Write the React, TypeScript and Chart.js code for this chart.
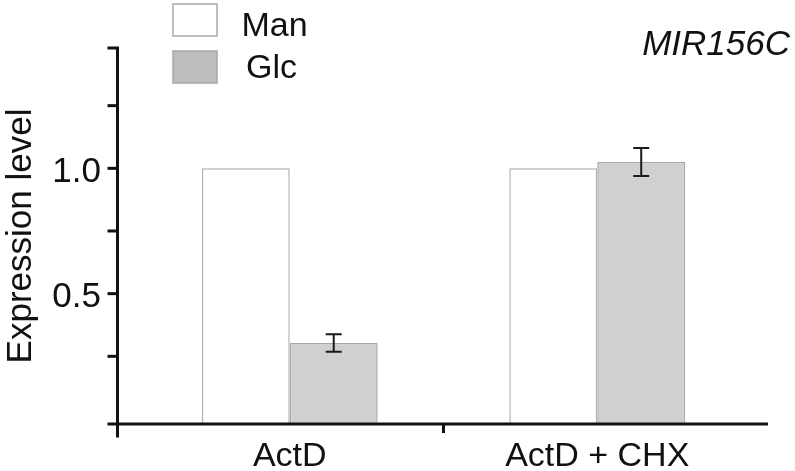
import React, { useEffect, useRef } from "react";
import { Chart, registerables } from "chart.js";

Chart.register(...registerables);

const categories = ["ActD", "ActD + CHX"];
const seriesLabels = ["Man", "Glc"];
const manValues = [1.0, 1.0];
const glcValues = [0.303, 1.025];
const glcErrors = [0.035, 0.056];
const yTickValues = [0, 0.25, 0.5, 0.75, 1.0, 1.25];
const yTickLabels = ["", "", "0.5", "", "1.0", ""];
const yMin = -0.02;
const yMax = 1.48;
const geneName = "MIR156C";
const yTitle = "Expression level";

const FONT = "'Liberation Sans', Arial, sans-serif";

const customPlugin = {
  id: "customDecor",
  afterDatasetsDraw(chart: any) {
    const ctx = chart.ctx;
    const y = chart.scales.y;
    const meta = chart.getDatasetMeta(1);
    ctx.save();
    ctx.strokeStyle = "#1a1a1a";
    ctx.lineWidth = 2;
    meta.data.forEach((bar: any, i: number) => {
      const v = glcValues[i];
      const e = glcErrors[i];
      const x = bar.x;
      const yt = y.getPixelForValue(v + e);
      const yb = y.getPixelForValue(v - e);
      ctx.beginPath();
      ctx.moveTo(x, yt);
      ctx.lineTo(x, yb);
      ctx.moveTo(x - 8, yt);
      ctx.lineTo(x + 8, yt);
      ctx.moveTo(x - 8, yb);
      ctx.lineTo(x + 8, yb);
      ctx.stroke();
    });
    ctx.restore();
  },
  afterDraw(chart: any) {
    const ctx = chart.ctx;
    const area = chart.chartArea;
    const y = chart.scales.y;
    const x = chart.scales.x;
    const axisX = area.left - 18.5;
    ctx.save();
    ctx.strokeStyle = "#111";
    ctx.lineWidth = 3;
    ctx.lineCap = "butt";
    // y axis
    ctx.beginPath();
    ctx.moveTo(axisX, area.top);
    ctx.lineTo(axisX, area.bottom + 13.5);
    ctx.stroke();
    // y ticks
    const tickVals = yTickValues.filter((v) => v > 0).concat([y.max]);
    tickVals.forEach((v) => {
      const py = y.getPixelForValue(v);
      ctx.beginPath();
      ctx.moveTo(axisX - 10, py);
      ctx.lineTo(axisX + 1.5, py);
      ctx.stroke();
    });
    // x axis
    ctx.beginPath();
    ctx.moveTo(axisX - 10, area.bottom);
    ctx.lineTo(area.right + 17, area.bottom);
    ctx.stroke();
    // middle tick between categories
    const mid = (x.getPixelForValue(0) + x.getPixelForValue(1)) / 2;
    ctx.beginPath();
    ctx.moveTo(mid, area.bottom);
    ctx.lineTo(mid, area.bottom + 9);
    ctx.stroke();

    // legend
    const ds = chart.data.datasets;
    const boxes = [
      { y: 4, fill: "#ffffff", textX: 241.5, base: 35.5 },
      { y: 51, fill: "#bdbdbd", textX: 246, base: 78 },
    ];
    ctx.lineWidth = 1.5;
    boxes.forEach((b, i) => {
      ctx.fillStyle = b.fill;
      ctx.strokeStyle = "#a8a8a8";
      ctx.fillRect(173, b.y, 44, 32);
      ctx.strokeRect(173, b.y, 44, 32);
      ctx.fillStyle = "#111";
      ctx.font = `34px ${FONT}`;
      ctx.textAlign = "left";
      ctx.textBaseline = "alphabetic";
      ctx.fillText(ds[i].label, b.textX, b.base);
    });

    // gene name
    ctx.font = `italic 35px ${FONT}`;
    ctx.textAlign = "right";
    ctx.textBaseline = "alphabetic";
    ctx.fillStyle = "#111";
    ctx.fillText(geneName, 790, 55);
    ctx.restore();
  },
};

export default function App() {
  const ref = useRef<HTMLCanvasElement | null>(null);
  useEffect(() => {
    document.body.style.margin = "0";
    if (!ref.current) return;
    const chart = new Chart(ref.current, {
      type: "bar",
      data: {
        labels: categories,
        datasets: [
          {
            label: seriesLabels[0],
            data: manValues,
            backgroundColor: "#ffffff",
            borderColor: "#b0b0b0",
            borderWidth: 1.5,
            base: yMin,
          } as any,
          {
            label: seriesLabels[1],
            data: glcValues,
            backgroundColor: "#d0d0d0",
            borderColor: "#a8a8a8",
            borderWidth: 1.5,
            base: yMin,
          } as any,
        ],
      },
      options: {
        responsive: false,
        animation: false,
        layout: { padding: { left: 0, right: 44, top: 48, bottom: 0 } },
        plugins: {
          legend: { display: false },
          tooltip: { enabled: false },
        },
        datasets: {
          bar: { categoryPercentage: 0.572, barPercentage: 1 },
        },
        scales: {
          x: {
            offset: true,
            grid: { display: false, drawTicks: false },
            border: { display: false },
            ticks: {
              color: "#111",
              font: { family: FONT, size: 34 },
              padding: 12,
              maxRotation: 0,
            },
            afterFit: (s: any) => {
              s.height = 47;
              s.paddingLeft = 0;
              s.paddingRight = 0;
              s.paddingTop = 0;
              s.paddingBottom = 0;
            },
          },
          y: {
            min: yMin,
            max: yMax,
            grid: { display: false, drawTicks: false },
            border: { display: false },
            afterBuildTicks: (s: any) => {
              s.ticks = yTickValues.map((v) => ({ value: v }));
            },
            ticks: {
              color: "#111",
              font: { family: FONT, size: 35 },
              padding: 35,
              labelOffset: 4,
              callback: (_v: any, i: number) => yTickLabels[i],
            },
            title: {
              display: true,
              text: yTitle,
              color: "#111",
              font: { family: FONT, size: 35 },
              padding: 0,
            },
            afterFit: (s: any) => {
              s.width = 136;
              s.paddingTop = 0;
              s.paddingBottom = 0;
              s.paddingLeft = 0;
              s.paddingRight = 0;
            },
          },
        },
      },
      plugins: [customPlugin],
    });
    return () => chart.destroy();
  }, []);
  return <canvas ref={ref} width={795} height={471} />;
}
